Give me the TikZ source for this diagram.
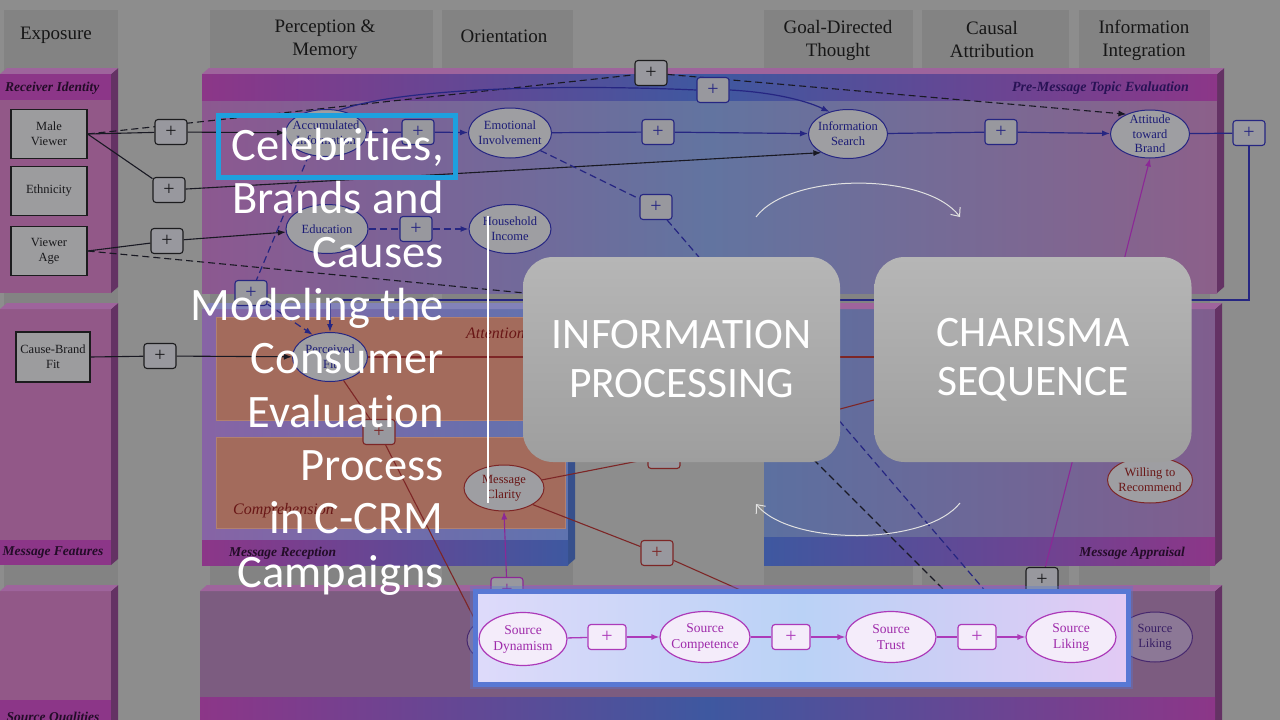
\documentclass[tikz,border=0pt]{standalone}
\usepackage{fontspec}
\setmainfont{Liberation Serif}
\newfontfamily\ttlfont[Ligatures={NoCommon,NoContextual}]{Carlito}
\usetikzlibrary{shapes.geometric,arrows.meta}
\pgfdeclarelayer{bglayer}
\pgfdeclarelayer{linelayer}
\pgfdeclarelayer{toplayer}
\pgfsetlayers{bglayer,linelayer,main,toplayer}
\definecolor{bgc}{RGB}{141,141,141}
\definecolor{colc}{RGB}{131,131,131}
\definecolor{hdrtxt}{RGB}{22,22,22}
\definecolor{recbody}{RGB}{146,88,136}
\definecolor{magbar}{RGB}{140,54,136}
\definecolor{bluebar}{RGB}{62,88,160}
\definecolor{sidec}{RGB}{100,50,100}
\definecolor{topc}{RGB}{158,100,156}
\definecolor{sideb}{RGB}{55,80,140}
\definecolor{topb}{RGB}{130,130,185}
\definecolor{pmL}{RGB}{140,88,144}
\definecolor{pmM}{RGB}{98,116,160}
\definecolor{pmR}{RGB}{140,96,138}
\definecolor{recL}{RGB}{135,100,165}
\definecolor{recR}{RGB}{95,115,175}
\definecolor{orng}{RGB}{163,107,92}
\definecolor{orngb}{RGB}{178,128,112}
\definecolor{apL}{RGB}{92,112,160}
\definecolor{apR}{RGB}{128,94,142}
\definecolor{botbody}{RGB}{124,92,128}
\definecolor{lbltxt}{RGB}{35,12,40}
\definecolor{pmtxt}{RGB}{40,18,85}
\definecolor{redtxt}{RGB}{105,22,22}
\definecolor{rbord}{RGB}{28,28,30}
\definecolor{rfill}{RGB}{156,156,158}
\definecolor{rtxt}{RGB}{25,25,28}
\definecolor{eblue}{RGB}{38,38,130}
\definecolor{efill}{RGB}{158,158,162}
\definecolor{etxt}{RGB}{28,28,118}
\definecolor{ered}{RGB}{125,38,38}
\definecolor{plfill}{RGB}{152,152,158}
\definecolor{dkline}{RGB}{25,25,35}
\definecolor{purl}{RGB}{140,40,150}
\definecolor{gtop}{RGB}{182,182,182}
\definecolor{gbot}{RGB}{158,158,158}
\definecolor{arcc}{RGB}{225,225,225}
\definecolor{hlblue}{RGB}{30,160,222}
\definecolor{hlglow}{RGB}{88,120,212}
\definecolor{hlL}{RGB}{222,218,250}
\definecolor{hlM}{RGB}{186,210,246}
\definecolor{hlR}{RGB}{226,202,244}
\definecolor{hmag}{RGB}{172,58,185}
\definecolor{hfill}{RGB}{244,236,250}
\definecolor{htxt}{RGB}{158,42,170}
\definecolor{oldfill}{RGB}{140,120,150}
\definecolor{oldline}{RGB}{70,40,110}
\definecolor{oldtxt}{RGB}{55,30,100}
\newcommand\slabbox[7]{%
  \path[#5] (#1,#2+6) rectangle (#3-7,#4);
  \fill[#6] (#3-7,#2+6) -- (#3,#2) -- (#3,#4-6) -- (#3-7,#4) -- cycle;
  \fill[#7] (#1,#2+6) -- (#1+7,#2) -- (#3,#2) -- (#3-7,#2+6) -- cycle;}
\tikzset{
  hdr/.style={font=\fontsize{19}{23}\selectfont, text=hdrtxt, align=center, inner sep=0pt},
  lbl/.style={font=\fontsize{13.5}{15}\selectfont\bfseries\itshape, text=lbltxt, inner sep=0pt},
  redlbl/.style={font=\fontsize{16}{18}\selectfont\itshape, text=redtxt, inner sep=0pt},
  rbox/.style={draw=rbord, fill=rfill, text=rtxt, minimum width=76pt, minimum height=49pt, align=center, font=\fontsize{12.5}{15}\selectfont, inner sep=0pt, line width=1.2pt},
  ebox/.style={ellipse, draw=eblue, fill=efill, minimum width=82pt, minimum height=49pt, inner sep=0pt, line width=1pt},
  etx/.style={align=center, font=\fontsize{12.5}{15}\selectfont, text=etxt, inner sep=0pt},
  eboxr/.style={ebox, draw=ered},
  rtx/.style={etx, text=redtxt},
  eold/.style={ellipse, draw=oldline, fill=oldfill, minimum width=76pt, minimum height=50pt, inner sep=0pt, line width=1pt},
  otx/.style={etx, text=oldtxt},
  plk/.style={draw=rbord, fill=plfill, text=rtxt, rounded corners=3pt, minimum width=32pt, minimum height=25pt, inner sep=0pt, font=\fontsize{20}{20}\selectfont, line width=1.1pt},
  plb/.style={plk, draw=eblue, text=eblue},
  plr/.style={plk, draw=ered, text=ered},
  plp/.style={plk, draw=purl, text=purl},
  dkl/.style={draw=dkline, line width=1.1pt},
  bll/.style={draw=eblue, line width=1.2pt},
  rdl/.style={draw=ered, line width=1.1pt},
  ppl/.style={draw=purl, line width=1.1pt},
  dsh/.style={dash pattern=on 7pt off 4pt},
  ah/.style={-{Latex[length=8pt,width=6pt]}},
  ttl/.style={font=\ttlfont\fontsize{46.5}{50}\selectfont, text=white, inner sep=0pt, anchor=base east},
  gbox/.style={rounded corners=30pt, top color=gtop, bottom color=gbot, text=white, align=center, font=\ttlfont\fontsize{43.5}{49}\selectfont, inner sep=0pt, minimum width=317pt, minimum height=205pt},
  arcl/.style={draw=arcc, line width=1pt, -{Straight Barb[length=7pt,width=12pt]}},
  hel/.style={ellipse, draw=hmag, fill=hfill, minimum width=90pt, minimum height=51pt, inner sep=0pt, line width=1.2pt},
  htx/.style={align=center, font=\fontsize{13.5}{16}\selectfont, text=htxt, inner sep=0pt},
  hpl/.style={draw=hmag, fill=hfill, text=hmag, rounded corners=3pt, minimum width=38pt, minimum height=25pt, inner sep=0pt, font=\fontsize{20}{20}\selectfont, line width=1.2pt},
  hln/.style={draw=hmag, line width=1.3pt},
}
\begin{document}
\begin{tikzpicture}[x=1pt,y=-1pt]
\useasboundingbox (0,0) rectangle (1280,720);
\begin{pgfonlayer}{bglayer}
\fill[bgc] (0,0) rectangle (1280,720);
\fill[colc] (4,10) rectangle (118,720);
\fill[colc] (210,10) rectangle (433,720);
\fill[colc] (442,10) rectangle (573,720);
\fill[colc] (764,10) rectangle (913,720);
\fill[colc] (922,10) rectangle (1069,720);
\fill[colc] (1079,10) rectangle (1210,720);
% slabs
\slabbox{0}{68}{118}{293}{fill=recbody}{sidec}{topc}
\fill[magbar] (0,74) rectangle (111,100);
\slabbox{202}{68}{1224}{293}{left color=pmL, right color=pmR, middle color=pmM}{sidec}{topc}
\path[left color=magbar, right color=magbar, middle color=bluebar] (202,74) rectangle (1217,100);
\slabbox{0}{303}{118}{565}{fill=recbody}{sidec}{topc}
\fill[magbar] (0,540) rectangle (111,565);
\slabbox{202}{303}{575}{565}{left color=recL, right color=recR}{sideb}{topb}
\filldraw[fill=orng, draw=orngb, line width=1pt] (216,317) rectangle (565,420);
\filldraw[fill=orng, draw=orngb, line width=1pt] (216,437) rectangle (565,528);
\path[left color=magbar, right color=bluebar] (202,540) rectangle (568,565);
\slabbox{764}{303}{1222}{565}{left color=apL, right color=apR}{sidec}{topc}
\path[left color=bluebar, right color=magbar] (764,537) rectangle (1215,565);
\slabbox{0}{585}{118}{730}{fill=recbody}{sidec}{topc}
\fill[magbar] (0,700) rectangle (111,730);
\slabbox{200}{585}{1222}{730}{fill=botbody}{sidec}{topc}
\path[left color=magbar, right color=magbar, middle color=bluebar] (200,697) rectangle (1215,730);
\end{pgfonlayer}
% headers and band labels
\node[hdr] (h1) at (56,35) {Exposure};
\node[hdr] (h2) at (325,40) {Perception \&\\Memory};
\node[hdr] (h3) at (504,36) {Orientation};
\node[hdr] (h4) at (838,40) {Goal-Directed\\Thought};
\node[hdr] (h5) at (992,40) {Causal\\Attribution};
\node[hdr] (h6) at (1144,40) {Information\\Integration};
\node[lbl, anchor=west] (lRI) at (5,88) {Receiver Identity};
\node[lbl, anchor=east, text=pmtxt, font=\fontsize{14}{16}\selectfont\bfseries\itshape] (lPM) at (1189,88) {Pre-Message Topic Evaluation};
\node[lbl] (lMF) at (53,553) {Message Features};
\node[lbl, anchor=west] (lMR) at (229,553) {Message Reception};
\node[lbl, anchor=east] (lMA) at (1185,553) {Message Appraisal};
\node[lbl] (lSQ) at (53,718) {Source Qualities};
\node[redlbl, anchor=west] (lAt) at (466,333) {Attention};
\node[redlbl, anchor=west] (lCo) at (233,511) {Comprehension};
% background nodes
\node[rbox] (male) at (49,134) {Male\\Viewer};
\node[rbox] (eth) at (49,191) {Ethnicity};
\node[rbox] (age) at (49,251) {Viewer\\Age};
\node[rbox, minimum width=74pt, minimum height=50pt] (cbf) at (53,357) {Cause-Brand\\Fit};
\node[ebox, minimum width=81pt, minimum height=47pt, label={[etx]center:{Accumulated\\Information}}] (acc) at (326,133) {};
\node[ebox, minimum width=83pt, minimum height=50pt, label={[etx]center:{Emotional\\Involvement}}] (emo) at (510,133) {};
\node[ebox, minimum width=79pt, minimum height=49pt, label={[etx]center:{Information\\Search}}] (srch) at (848,134) {};
\node[ebox, minimum width=79pt, minimum height=48pt, label={[etx, font=\fontsize{12.5}{14.5}\selectfont]center:{Attitude\\toward\\Brand}}] (att) at (1150,134) {};
\node[ebox, label={[etx]center:{Education}}] (edu) at (327,229) {};
\node[ebox, label={[etx]center:{Household\\Income}}] (inc) at (510,229) {};
\node[ebox, minimum width=75pt, label={[etx]center:{Perceived\\Fit}}] (pfit) at (330,357) {};
\node[eboxr, minimum width=80pt, minimum height=46pt, label={[rtx]center:{Message\\Clarity}}] (clar) at (504,488) {};
\node[eboxr, minimum width=85pt, minimum height=46pt, label={[rtx]center:{Willing to\\Recommend}}] (will) at (1150,480) {};
\node[eold, label={[otx]center:{Source\\Dynamism}}] (odyn) at (505,640) {};
\node[eold, minimum width=75pt, label={[otx]center:{Source\\Liking}}] (olik) at (1155,637) {};
% plus boxes
\node[plk] (pA) at (171,132) {+};
\node[plk] (pB) at (169,190) {+};
\node[plk] (pC) at (167,241) {+};
\node[plk] (pT) at (651,73) {+};
\node[plb] (pU) at (713,90) {+};
\node[plb] (pD) at (418,132) {+};
\node[plb] (pE) at (658,132) {+};
\node[plb] (pF) at (1001,132) {+};
\node[plb] (pR) at (1249,133) {+};
\node[plb] (pG) at (416,229) {+};
\node[plb] (pH) at (656,207) {+};
\node[plb] (pI) at (251,293) {+};
\node[plk] (pJ) at (160,356) {+};
\node[plr] (pK) at (379,432) {+};
\node[plr] (pL) at (664,456) {+};
\node[plr] (pM) at (657,553) {+};
\node[plp] (pN) at (507,590) {+};
\node[plk] (pO) at (1042,580) {+};
\coordinate (c1) at (1249,300);
\coordinate (c2) at (330,300);
\coordinate (c3) at (660,306);
\coordinate (c4) at (947,593);
\coordinate (c5) at (987,593);
\coordinate (c6) at (900,357);
\coordinate (c7) at (476,622);
\coordinate (c8) at (900,393);
\coordinate (c9) at (747,593);
\begin{pgfonlayer}{linelayer}
\draw[dkl] (male.east) -- (pA);
\draw[dkl, ah] (pA) -- (acc);
\draw[dkl, dsh] (male.east) -- (pT);
\draw[dkl, dsh, ah] (pT) -- (att.140);
\draw[dkl] (male.east) -- (pB);
\draw[dkl, ah] (pB) -- (srch.215);
\draw[dkl] (age.east) -- (pC);
\draw[dkl, ah] (pC) -- (edu);
\draw[dkl, dsh] (age.east) -- (c3) -- (c4);
\draw[dkl] (cbf.east) -- (pJ);
\draw[dkl, ah] (pJ) -- (pfit);
\draw[bll] (acc) -- (pD);
\draw[bll, ah] (pD) -- (emo);
\draw[bll] (emo) -- (pE);
\draw[bll, ah] (pE) -- (srch);
\draw[bll] (srch) -- (pF);
\draw[bll, ah] (pF) -- (att);
\draw[bll] (att) -- (pR);
\draw[bll, ah] (pR) -- (c1) -- (c2) -- (pfit.north);
\draw[bll] (acc.60) .. controls (400,88) and (560,84) .. (pU.west);
\draw[bll, ah] (pU.east) .. controls (770,92) and (805,100) .. (srch.130);
\draw[bll, dsh] (edu) -- (pG);
\draw[bll, dsh, ah] (pG) -- (inc);
\draw[bll, dsh] (acc.232) -- (pI);
\draw[bll, dsh, ah] (pI) -- (pfit.128);
\draw[bll, dsh] (emo.330) -- (pH);
\draw[bll, dsh] (pH) -- (c5);
\draw[rdl] (pfit.east) -- (c6);
\draw[rdl] (pfit.300) -- (pK);
\draw[rdl] (pK) -- (c7);
\draw[rdl] (clar.12) -- (pL);
\draw[rdl] (pL) -- (c8);
\draw[rdl] (clar.330) -- (pM);
\draw[rdl] (pM) -- (c9);
\draw[ppl, ah] (pN) -- (clar.south);
\draw[ppl, ah] (pO) -- (att.south);
\end{pgfonlayer}
\begin{pgfonlayer}{toplayer}
% grey boxes
\node[gbox] (ip) at (681.5,359.5) {INFORMATION\\PROCESSING};
\node[gbox] (cs) at (1033,359.5) {CHARISMA\\SEQUENCE};
\coordinate (a1) at (756,217);
\coordinate (a2) at (960,217);
\coordinate (a3) at (960,503);
\coordinate (a4) at (756,504);
\draw[arcl] (a1) .. controls (790,172) and (926,172) .. (a2);
\draw[arcl] (a3) .. controls (926,546) and (790,546) .. (a4);
% highlighted strip
\draw[hlglow, line width=10pt, opacity=0.35] (475,591) rectangle (1128,684);
\path[draw=hlglow, line width=5pt, left color=hlL, right color=hlR, middle color=hlM] (475,591) rectangle (1128,684);
\node[hel, minimum width=88pt, minimum height=53pt, label={[htx]center:{Source\\Dynamism}}] (sd) at (523,639) {};
\node[hel, label={[htx]center:{Source\\Competence}}] (sc) at (705,637) {};
\node[hel, label={[htx]center:{Source\\Trust}}] (st) at (891,637) {};
\node[hel, label={[htx]center:{Source\\Liking}}] (sl) at (1071,637) {};
\node[hpl] (q1) at (607,637) {+};
\node[hpl] (q2) at (791,637) {+};
\node[hpl] (q3) at (977,637) {+};
\draw[hln] (sd) -- (q1);
\draw[hln, ah] (q1) -- (sc);
\draw[hln] (sc) -- (q2);
\draw[hln, ah] (q2) -- (st);
\draw[hln] (st) -- (q3);
\draw[hln, ah] (q3) -- (sl);
% title
\draw[white, line width=2.5pt] (488,216) -- (488,503);
\node[ttl] (t1) at (444,160) {Celebrities,};
\node[ttl] (t2) at (444,213.5) {Brands and};
\node[ttl] (t3) at (444,267) {Causes};
\node[ttl] (t4) at (444,320) {Modeling the};
\node[ttl] (t5) at (444,373.5) {Consumer};
\node[ttl] (t6) at (444,427) {Evaluation};
\node[ttl] (t7) at (444,480) {Process};
\node[ttl] (t8) at (444,533.5) {in C-CRM};
\node[ttl] (t9) at (444,587) {Campaigns};
\draw[hlblue, line width=5pt] (218,115) rectangle (455,177);
\end{pgfonlayer}
\end{tikzpicture}
\end{document}
